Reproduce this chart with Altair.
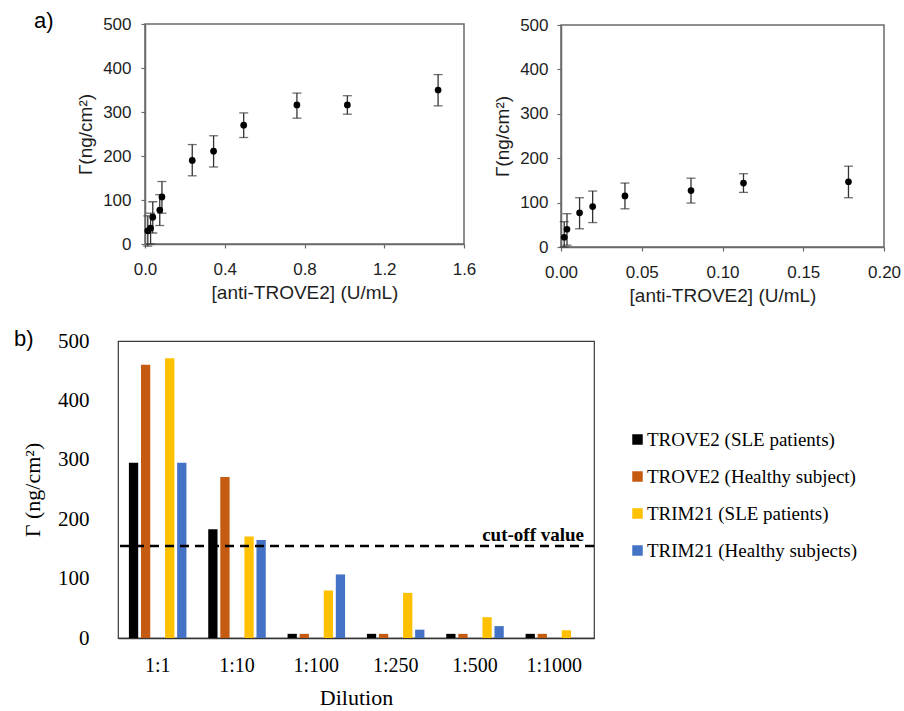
import altair as alt
import pandas as pd

# ---- a) adsorbed mass vs anti-TROVE2 concentration (wide range) ----
a_conc = [0.014, 0.028, 0.039, 0.074, 0.085, 0.237, 0.344, 0.495, 0.762, 1.015, 1.47]
a_gamma = [30, 36, 61, 77, 107, 190, 211, 270, 316, 316, 350]
a_low = [-5, 0, 25, 42, 70, 155, 175, 242, 286, 295, 314]
a_high = [64, 70, 96, 112, 142, 226, 246, 298, 343, 337, 385]

# ---- a) low concentration range ----
b_conc = [0.002, 0.0037, 0.0115, 0.0196, 0.0396, 0.0805, 0.113, 0.178]
b_gamma = [22, 40, 77, 91, 115, 127, 144, 147]
b_low = [0, 4, 41, 55, 86, 99, 123, 111]
b_high = [57, 75, 111, 126, 144, 155, 165, 182]

# ---- b) serum dilution study ----
dilutions = ["1:1", "1:10", "1:100", "1:250", "1:500", "1:1000"]
series = ["TROVE2 (SLE patients)", "TROVE2 (Healthy subject)",
          "TRIM21 (SLE patients)", "TRIM21 (Healthy subjects)"]
trove2_sle = [295, 183, 7, 7, 7, 7]
trove2_healthy = [460, 271, 7, 7, 7, 7]
trim21_sle = [471, 171, 80, 76, 35, 13]
trim21_healthy = [295, 165, 107, 14, 20, 0]
cutoff = 155
bar_colors = ["#000000", "#C55A11", "#FFC000", "#4472C4"]

SANS = "Liberation Sans"
SERIF = "Liberation Serif"
FRAME = "#6a6a6a"
INK = "#1e1e1e"
Y_TICKS = [0, 100, 200, 300, 400, 500]


def dose_panel(conc, gamma, low, high, x_dom, x_rng, y_rng, x_ticks, x_fmt,
               x_off, y_off, lab_pad_x, lab_pad_y, tit_pad_x):
    df = pd.DataFrame({"conc": conc, "gamma": gamma, "low": low, "high": high})
    xs = alt.Scale(domain=x_dom, range=x_rng, nice=False, zero=False)
    ys = alt.Scale(domain=[0, 500], range=y_rng, nice=False)
    x_axis = alt.Axis(values=x_ticks, format=x_fmt, orient="bottom", offset=x_off,
                      title="[anti-TROVE2] (U/mL)", labelFlush=False, labelOverlap=False,
                      grid=False, domainColor=FRAME, domainWidth=1.5, tickColor=FRAME,
                      tickSize=4, tickWidth=1.2, labelPadding=lab_pad_x,
                      labelFont=SANS, labelFontSize=17, labelColor=INK,
                      titleFont=SANS, titleFontSize=19, titleFontWeight="normal",
                      titleColor=INK, titlePadding=tit_pad_x)
    y_axis = alt.Axis(values=Y_TICKS, orient="left", offset=y_off, title="Γ(ng/cm²)",
                      grid=False, domainColor=FRAME, domainWidth=1.5, tickColor=FRAME,
                      tickSize=4, tickWidth=1.2, labelPadding=lab_pad_y,
                      labelFont=SANS, labelFontSize=17, labelColor=INK,
                      titleFont=SANS, titleFontSize=19, titleFontWeight="normal",
                      titleColor=INK, titlePadding=7)
    x_enc = alt.X("conc:Q", scale=xs, axis=x_axis)
    base = alt.Chart(df)
    frame = alt.Chart(pd.DataFrame({"k": [0]})).mark_rect(
        fillOpacity=0, stroke=FRAME, strokeWidth=1.5
    ).encode(x=alt.datum(x_dom[0]), x2=alt.datum(x_dom[1]),
             y=alt.datum(0), y2=alt.datum(500))
    whiskers = base.mark_rule(color="#333333", strokeWidth=1.3).encode(
        x=x_enc, y=alt.Y("low:Q", scale=ys, axis=y_axis), y2="high:Q")
    cap_low = base.mark_tick(orient="horizontal", size=9, thickness=1.3,
                             color="#333333").encode(
        x=x_enc, y=alt.Y("low:Q", scale=ys, axis=y_axis))
    cap_high = base.mark_tick(orient="horizontal", size=9, thickness=1.3,
                              color="#333333").encode(
        x=x_enc, y=alt.Y("high:Q", scale=ys, axis=y_axis))
    dots = base.mark_circle(size=45, color="black", opacity=1).encode(
        x=x_enc, y=alt.Y("gamma:Q", scale=ys, axis=y_axis))
    return alt.layer(frame, whiskers, cap_low, cap_high, dots)


panel_wide = dose_panel(a_conc, a_gamma, a_low, a_high, [0, 1.6], [27, 346], [220, 0],
                        [0, 0.4, 0.8, 1.2, 1.6], ".1f", -3, -27, 13, 10, 6)
panel_low = dose_panel(b_conc, b_gamma, b_low, b_high, [0, 0.2], [443, 766], [223, 1],
                       [0, 0.05, 0.10, 0.15, 0.20], ".2f", 0, -443, 13, 9, 6)

tag_a = alt.Chart(pd.DataFrame({"tag": ["a)"]})).mark_text(
    align="left", baseline="alphabetic", font=SANS, fontSize=22, color="black"
).encode(text="tag:N", x=alt.value(-84), y=alt.value(4))

top = alt.layer(panel_wide, panel_low, tag_a).resolve_scale(
    x="independent", y="independent"
).properties(width=766, height=223, view=alt.ViewBackground(stroke=None))

# ---- bottom bar chart ----
rows = []
for name, vals in zip(series, [trove2_sle, trove2_healthy, trim21_sle, trim21_healthy]):
    for d, v in zip(dilutions, vals):
        rows.append({"dilution": d, "series": name, "gamma": v})
bars_df = pd.DataFrame(rows)
slots = series[:2] + [" "] + series[2:]

y_axis_c = alt.Axis(values=Y_TICKS, grid=False, domain=False, ticks=False, tickSize=0,
                    labelPadding=29, labelFont=SERIF, labelFontSize=21, labelColor="black",
                    title="Γ (ng/cm²)", titleFont=SERIF, titleFontSize=22,
                    titleFontWeight="normal", titleColor="black", titlePadding=13)
y_scale_c = alt.Scale(domain=[0, 500], nice=False)

bars = alt.Chart(bars_df).mark_bar().encode(
    x=alt.X("dilution:N", sort=dilutions,
            scale=alt.Scale(domain=dilutions, paddingInner=0.24, paddingOuter=0.12),
            axis=alt.Axis(title="Dilution", labelAngle=0, ticks=False, tickSize=0,
                          domainColor="#333333", domainWidth=1.3, labelPadding=17,
                          labelFont=SERIF, labelFontSize=20, labelColor="black",
                          titleFont=SERIF, titleFontSize=22, titleFontWeight="normal",
                          titleColor="black", titlePadding=12)),
    xOffset=alt.XOffset("series:N",
                        scale=alt.Scale(domain=slots, paddingInner=0.23, paddingOuter=0.115)),
    y=alt.Y("gamma:Q", scale=y_scale_c, axis=y_axis_c),
    color=alt.Color("series:N", scale=alt.Scale(domain=series, range=bar_colors),
                    legend=alt.Legend(orient="none", legendX=510, legendY=89, title=None,
                                      symbolType="square", symbolSize=110,
                                      symbolStrokeWidth=0, labelFont=SERIF,
                                      labelFontSize=19, labelColor="black", labelOffset=0,
                                      rowPadding=17, padding=0, labelLimit=0)),
)

cut_df = pd.DataFrame({"cut": [cutoff], "label": ["cut-off value"]})
cut_line = alt.Chart(cut_df).mark_rule(
    color="black", strokeDash=[9, 6], strokeWidth=2.5
).encode(y=alt.Y("cut:Q", scale=y_scale_c, axis=y_axis_c))
cut_text = alt.Chart(cut_df).mark_text(
    align="right", baseline="alphabetic", dy=-5, font=SERIF, fontSize=19,
    fontWeight="bold", color="black"
).encode(x=alt.value(466), y=alt.Y("cut:Q", scale=y_scale_c, axis=y_axis_c),
         text="label:N")

tag_b = alt.Chart(pd.DataFrame({"tag": ["b)"]})).mark_text(
    align="left", baseline="alphabetic", font=SANS, fontSize=22, color="black"
).encode(text="tag:N", x=alt.value(-104), y=alt.value(5))

bottom = alt.layer(bars, cut_line, cut_text, tag_b).properties(
    width=476, height=297,
    view=alt.ViewBackground(stroke="#3a3a3a", strokeWidth=1.2)
)

chart = alt.vconcat(top, bottom, spacing=22).resolve_scale(
    color="independent"
).properties(
    padding={"left": 13, "top": 10, "right": 0, "bottom": 0}
).configure_view(stroke=None).configure(background="white")

chart.save("out.html", embed_options={"renderer": "svg", "actions": False})
